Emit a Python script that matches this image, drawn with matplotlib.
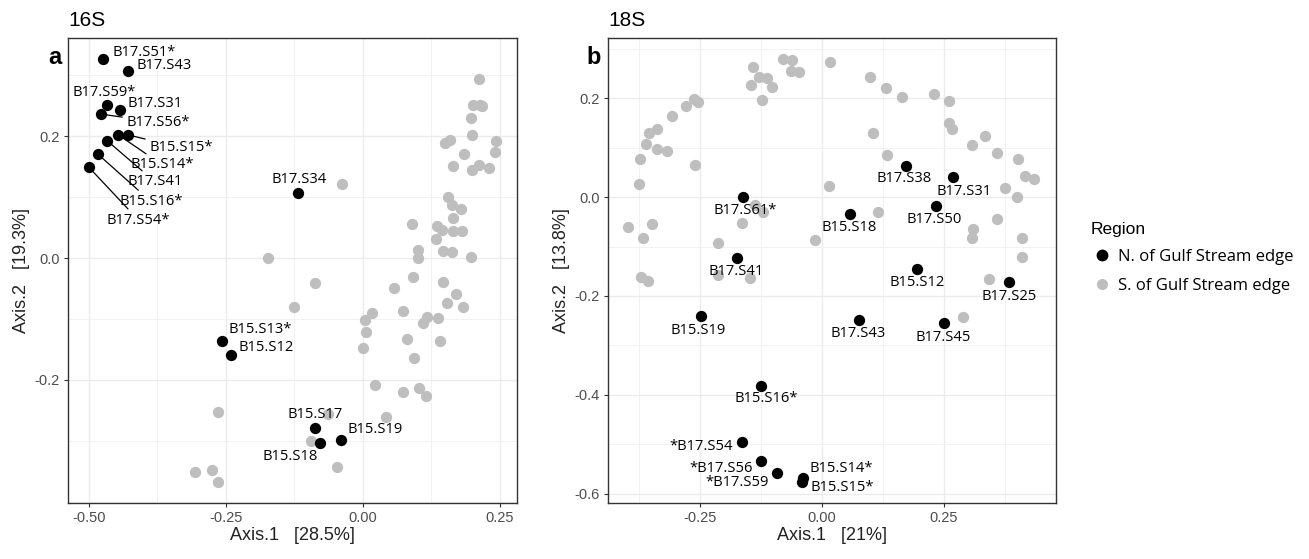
import matplotlib
matplotlib.use("Agg")
import matplotlib.pyplot as plt
from matplotlib.lines import Line2D
import numpy as np

plt.rcParams["axes.unicode_minus"] = False

GREY = "#BEBEBE"
LABEL_FONT = ["Open Sans", "DejaVu Sans"]
AXIS_FONT = ["Liberation Sans", "DejaVu Sans"]

# ---- 16S (panel a) ----
a_south_x = [0.212, 0.201, 0.214, 0.218, 0.197, 0.199, 0.243, 0.150, 0.159, 0.241,
             0.184, 0.164, 0.199, 0.212, 0.230, -0.039, 0.155, 0.162, 0.179, 0.164,
             0.089, 0.135, 0.144, 0.164, 0.181, 0.133, 0.100, 0.100, 0.146, 0.162,
             0.197, 0.091, 0.146, -0.088, 0.057, 0.170, 0.154, 0.183, -0.126, 0.073,
             0.016, 0.004, 0.117, 0.110, 0.137, 0.005, 0.080, 0.141, 0.000, 0.093,
             0.022, 0.073, 0.102, 0.115, -0.265, -0.064, 0.042, -0.095, -0.048, -0.307,
             -0.276, -0.265, -0.174]
a_south_y = [0.293, 0.251, 0.251, 0.249, 0.230, 0.202, 0.192, 0.189, 0.193, 0.174,
             0.170, 0.151, 0.144, 0.152, 0.148, 0.121, 0.100, 0.087, 0.080, 0.066,
             0.056, 0.052, 0.046, 0.044, 0.044, 0.031, 0.013, 0.000, 0.011, 0.010,
             0.002, -0.031, -0.039, -0.041, -0.049, -0.059, -0.074, -0.080, -0.080, -0.087,
             -0.090, -0.102, -0.097, -0.107, -0.098, -0.121, -0.133, -0.136, -0.148, -0.164,
             -0.208, -0.220, -0.213, -0.226, -0.252, -0.256, -0.261, -0.300, -0.343, -0.351,
             -0.348, -0.367, 0.000]

a_north_names = ["B17.S51*", "B17.S43", "B17.S59*", "B17.S31", "B17.S56*", "B15.S15*",
                 "B15.S14*", "B17.S41", "B15.S16*", "B17.S54*", "B17.S34", "B15.S13*",
                 "B15.S12", "B15.S17", "B15.S18", "B15.S19"]
a_north_x = [-0.474, -0.428, -0.466, -0.444, -0.477, -0.428, -0.446, -0.466, -0.483, -0.500,
             -0.119, -0.258, -0.241, -0.088, -0.079, -0.040]
a_north_y = [0.326, 0.307, 0.251, 0.243, 0.236, 0.202, 0.202, 0.192, 0.170, 0.149,
             0.107, -0.136, -0.159, -0.279, -0.303, -0.298]

# ---- 18S (panel b) ----
b_south_x = [-0.080, -0.061, -0.064, -0.047, -0.141, -0.145, -0.129, -0.113, -0.102, -0.123,
             -0.262, -0.254, -0.279, -0.307, -0.338, -0.355, -0.361, -0.338, -0.318, -0.373,
             -0.260, -0.375, -0.398, -0.348, -0.367, -0.164, -0.137, -0.121, -0.213, -0.014,
             -0.371, -0.357, -0.213, -0.148, 0.016, 0.098, 0.131, 0.164, 0.230, 0.260,
             0.260, 0.266, 0.105, 0.334, 0.307, 0.359, 0.402, 0.416, 0.434, 0.133,
             0.014, 0.375, 0.400, 0.115, 0.359, 0.309, 0.307, 0.410, 0.410, 0.342,
             0.289]
b_south_y = [0.280, 0.278, 0.255, 0.253, 0.263, 0.227, 0.243, 0.241, 0.223, 0.196,
             0.198, 0.192, 0.184, 0.164, 0.138, 0.130, 0.107, 0.097, 0.093, 0.077,
             0.065, 0.026, -0.061, -0.055, -0.083, -0.053, -0.016, -0.031, -0.093, -0.087,
             -0.162, -0.170, -0.158, -0.164, 0.273, 0.243, 0.221, 0.202, 0.208, 0.194,
             0.150, 0.137, 0.129, 0.123, 0.105, 0.089, 0.077, 0.042, 0.036, 0.085,
             0.022, 0.018, 0.000, -0.031, -0.045, -0.065, -0.083, -0.083, -0.122, -0.166,
             -0.243]

b_north_names = ["B17.S61*", "B17.S41", "B17.S38", "B17.S31", "B17.S50", "B15.S18",
                 "B15.S12", "B17.S25", "B17.S43", "B17.S45", "B15.S19", "B15.S16*",
                 "*B17.S54", "*B17.S56", "*B17.S59", "B15.S14*", "B15.S15*"]
b_north_x = [-0.162, -0.174, 0.172, 0.268, 0.234, 0.057, 0.195, 0.383, 0.076, 0.250,
             -0.248, -0.125, -0.164, -0.125, -0.092, -0.039, -0.041]
b_north_y = [0.000, -0.124, 0.062, 0.040, -0.017, -0.035, -0.146, -0.172, -0.249, -0.255,
             -0.241, -0.383, -0.496, -0.535, -0.559, -0.569, -0.577]

# label placement: (dx px, dy px, ha, leader line)
a_label_pos = {
    "B17.S51*": (9, 7, "left", False), "B17.S43": (8, 5, "left", False),
    "B17.S59*": (-35, 13, "left", False), "B17.S31": (8, 6, "left", False),
    "B17.S56*": (25, -8, "left", True), "B15.S15*": (21, -13, "left", True),
    "B15.S14*": (12, -30, "left", True), "B17.S41": (20, -41, "left", True),
    "B15.S16*": (21, -47, "left", True), "B17.S54*": (18, -53, "left", True),
    "B17.S34": (-26, 13, "left", False), "B15.S13*": (7, 11, "left", False),
    "B15.S12": (8, 7, "left", False), "B15.S17": (-27, 14, "left", False),
    "B15.S18": (-57, -14, "left", False), "B15.S19": (6, 10, "left", False),
}
b_label_pos = {
    "B17.S61*": (2, -13, "center", False), "B17.S41": (-1, -13, "center", False),
    "B17.S38": (-2, -12, "center", False), "B17.S31": (11, -14, "center", False),
    "B17.S50": (-2, -14, "center", False), "B15.S18": (-1, -13, "center", False),
    "B15.S12": (0, -13, "center", False), "B17.S25": (0, -14, "center", False),
    "B17.S43": (-1, -13, "center", False), "B17.S45": (-1, -14, "center", False),
    "B15.S19": (-3, -14, "center", False), "B15.S16*": (5, -12, "center", False),
    "*B17.S54": (-9, -4, "right", False), "*B17.S56": (-8, -7, "right", False),
    "*B17.S59": (-8, -9, "right", False), "B15.S14*": (7, 10, "left", False),
    "B15.S15*": (8, -5, "left", False),
}


def style_axes(ax, xticks, yticks, xminor, yminor, xlabel, ylabel):
    ax.set_xticks(xticks)
    ax.set_yticks(yticks)
    ax.set_xticks(xminor, minor=True)
    ax.set_yticks(yminor, minor=True)
    ax.set_xticklabels([f"{t:.2f}" for t in xticks])
    ax.set_yticklabels([f"{t:.1f}" for t in yticks])
    ax.grid(True, which="major", color="#EBEBEB", linewidth=1.0, zorder=0)
    ax.grid(True, which="minor", color="#F2F2F2", linewidth=0.7, zorder=0)
    ax.set_axisbelow(True)
    ax.tick_params(which="major", length=3, width=0.8, color="#333333",
                   labelsize=10.5, labelcolor="#4D4D4D", pad=3)
    ax.tick_params(which="minor", length=0)
    for lab in ax.get_xticklabels() + ax.get_yticklabels():
        lab.set_family(AXIS_FONT)
    for sp in ax.spines.values():
        sp.set_color("#333333")
        sp.set_linewidth(1.0)
    ax.set_xlabel(xlabel, fontsize=13, family=AXIS_FONT, color="#222222", labelpad=1)
    ax.set_ylabel(ylabel, fontsize=13, family=AXIS_FONT, color="#222222", labelpad=3)


def draw_panel(ax, sx, sy, names, nx, ny, label_pos):
    ax.scatter(sx, sy, s=66, color=GREY, linewidths=0, zorder=2)
    ax.scatter(nx, ny, s=66, color="black", linewidths=0, zorder=3)
    for name, x, y in zip(names, nx, ny):
        dx, dy, ha, line = label_pos[name]
        arrow = None
        if line:
            arrow = dict(arrowstyle="-", color="black", lw=0.9, shrinkA=1, shrinkB=4)
        ax.annotate(name, (x, y), xytext=(dx, dy), textcoords="offset pixels",
                    ha=ha, va="center", fontsize=10.6, family=LABEL_FONT,
                    arrowprops=arrow, zorder=4)


fig = plt.figure(figsize=(13.09, 5.59), dpi=100)
ax_a = fig.add_axes([68 / 1309, 56 / 559, 449 / 1309, 465 / 559])
ax_b = fig.add_axes([608 / 1309, 56 / 559, 448 / 1309, 465 / 559])

draw_panel(ax_a, a_south_x, a_south_y, a_north_names, a_north_x, a_north_y, a_label_pos)
ax_a.set_xlim(-0.538, 0.281)
ax_a.set_ylim(-0.402, 0.361)
style_axes(ax_a, [-0.5, -0.25, 0.0, 0.25], [-0.2, 0.0, 0.2],
           np.arange(-0.5, 0.3, 0.125), np.arange(-0.4, 0.4, 0.1),
           "Axis.1   [28.5%]", "Axis.2   [19.3%]")

draw_panel(ax_b, b_south_x, b_south_y, b_north_names, b_north_x, b_north_y, b_label_pos)
ax_b.set_xlim(-0.439, 0.480)
ax_b.set_ylim(-0.619, 0.322)
style_axes(ax_b, [-0.25, 0.0, 0.25], [-0.6, -0.4, -0.2, 0.0, 0.2],
           np.arange(-0.375, 0.5, 0.125), np.arange(-0.6, 0.35, 0.1),
           "Axis.1   [21%]", "Axis.2   [13.8%]")

fig.text(68 / 1309, 1 - 20 / 559, "16S", fontsize=15, family=AXIS_FONT,
         ha="left", va="center")
fig.text(608 / 1309, 1 - 20 / 559, "18S", fontsize=15, family=AXIS_FONT,
         ha="left", va="center")
fig.text(55 / 1309, 1 - 57 / 559, "a", fontsize=17, fontweight="bold",
         family=AXIS_FONT, ha="center", va="center")
fig.text(594 / 1309, 1 - 57 / 559, "b", fontsize=17, fontweight="bold",
         family=AXIS_FONT, ha="center", va="center")

handles = [
    Line2D([], [], marker="o", linestyle="", markersize=8.5, color="black",
           markeredgewidth=0, label="N. of Gulf Stream edge"),
    Line2D([], [], marker="o", linestyle="", markersize=8, color=GREY,
           markeredgewidth=0, label="S. of Gulf Stream edge"),
]
leg = fig.legend(handles=handles, title="Region", loc="upper left",
                 bbox_to_anchor=(1084 / 1309, 1 - 215 / 559), frameon=False,
                 prop={"family": LABEL_FONT, "size": 12}, handletextpad=0.25,
                 labelspacing=0.75, borderaxespad=0, handlelength=1.4)
leg.get_title().set_fontsize(12.5)
leg.get_title().set_family(AXIS_FONT)
leg._legend_box.align = "left"

fig.savefig("out.png", dpi=100)
